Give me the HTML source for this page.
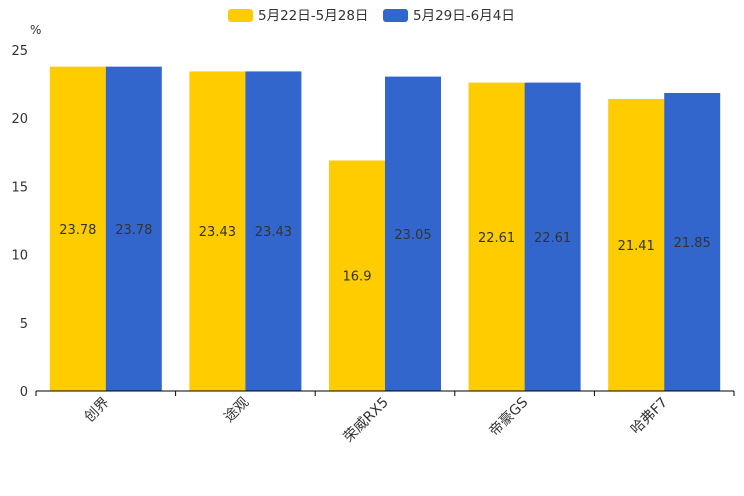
<!DOCTYPE html>
<html><head><meta charset="utf-8"><style>
html,body{margin:0;padding:0;background:#fff;}
svg{display:block;font-family:"DejaVu Sans","Noto Sans CJK SC",sans-serif;}
</style></head><body>
<svg id="chart" width="744" height="496"></svg>
<script>
const categories = ["创界","途观","荣威RX5","帝豪GS","哈弗F7"];
const seriesNames = ["5月22日-5月28日","5月29日-6月4日"];
const seriesA = [23.78,23.43,16.9,22.61,21.41];
const seriesB = [23.78,23.43,23.05,22.61,21.85];
const yTicks = [0,5,10,15,20,25];
const colors = ["#ffcc00","#3366cc"];
const svg = document.getElementById('chart');
const NS = 'http://www.w3.org/2000/svg';
const X0=36, X1=734, Y0=391, Y1=50, YMAX=25;
const band=(X1-X0)/categories.length;
const y=v=>Y0-(v/YMAX)*(Y0-Y1);
function mk(tag,attrs,parent){const e=document.createElementNS(NS,tag);for(const k in attrs)e.setAttribute(k,attrs[k]);(parent||svg).appendChild(e);return e;}
const lg=mk('g',{});


const lx=[228,383];
seriesNames.forEach((n,i)=>{
  const r=mk('rect',{x:lx[i],y:9,width:25,height:13,rx:3,fill:colors[i]},lg);
  
  
  const t=mk('text',{x:lx[i]+30,y:20,'font-size':13.5,fill:'#333'},lg);
  t.textContent=n;
  
  
});
const unit=mk('text',{x:30,y:34,'font-size':12,fill:'#333'});
unit.textContent='%';


yTicks.forEach(v=>{
  const t=mk('text',{x:28,y:y(v)+5,'font-size':13,fill:'#333','text-anchor':'end'});
  t.textContent=v;
  
  
});
const bw=56, pad=(band-2*bw)/2;
[seriesA,seriesB].forEach((s,si)=>{
  s.forEach((v,i)=>{
    const bx=X0+i*band+pad+si*bw;
    const r=mk('rect',{x:bx,y:y(v),width:bw,height:Y0-y(v),fill:colors[si]});
    
    
    const t=mk('text',{x:bx+bw/2,y:(y(v)+Y0)/2+5,'font-size':13,fill:'#333','text-anchor':'middle'});
    t.textContent=v;
    
    
  });
});
const ax=mk('line',{x1:X0,y1:Y0,x2:X1,y2:Y0,stroke:'#000','stroke-width':1});


for(let i=0;i<=categories.length;i++){
  const tx=X0+i*band;
  const tk=mk('line',{x1:tx,y1:Y0,x2:tx,y2:Y0+5,stroke:'#000'});
  
  
}
categories.forEach((c,i)=>{
  const cx=X0+(i+0.5)*band+4, cy=Y0+12;
  const t=mk('text',{x:cx,y:cy,'font-size':14,fill:'#333','text-anchor':'end',transform:`rotate(-45 ${cx} ${cy})`});
  t.textContent=c;
  
  
});
</script>
</body></html>
